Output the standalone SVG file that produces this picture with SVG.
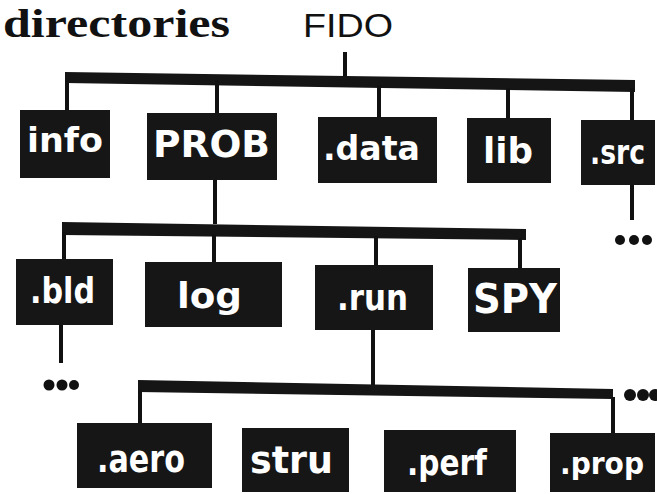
<svg xmlns="http://www.w3.org/2000/svg" width="657" height="494" viewBox="0 0 657 494">
<style>
.box{fill:#161616}
.lbl{fill:#fff;font-family:"DejaVu Sans",sans-serif;font-weight:bold}
.drop{stroke:#111;stroke-width:4;fill:none}
.bar{fill:#151515}
.dot{fill:#111}
</style>
<rect width="657" height="494" fill="#fff"/>
<text x="3" y="37" font-family="Liberation Serif,serif" font-size="40" font-weight="bold" textLength="227" lengthAdjust="spacingAndGlyphs" fill="#111">directories</text>
<text x="303" y="37" font-family="Liberation Sans,sans-serif" font-size="33" textLength="90" lengthAdjust="spacingAndGlyphs" fill="#111">FIDO</text>

<g id="connectors">
  <line class="drop" x1="345" y1="52" x2="345" y2="78"/>
  <polygon class="bar" points="65,72 635,80 635,92 65,83"/>
  <line class="drop" x1="67" y1="80" x2="67" y2="111"/>
  <line class="drop" x1="217" y1="80" x2="217" y2="114"/>
  <line class="drop" x1="379" y1="85" x2="379" y2="118"/>
  <line class="drop" x1="508" y1="88" x2="508" y2="119"/>
  <line class="drop" x1="632" y1="88" x2="632" y2="121"/>

  <line class="drop" x1="215" y1="178" x2="215" y2="224"/>
  <line class="drop" x1="632" y1="182" x2="632" y2="220"/>
  <circle class="dot" cx="620" cy="240" r="5"/>
  <circle class="dot" cx="634" cy="240" r="5"/>
  <circle class="dot" cx="647" cy="240" r="5"/>

  <polygon class="bar" points="62,222 526,229 526,240 62,235"/>
  <line class="drop" x1="64" y1="232" x2="64" y2="260"/>
  <line class="drop" x1="214" y1="234" x2="214" y2="263"/>
  <line class="drop" x1="376" y1="236" x2="376" y2="266"/>
  <line class="drop" x1="520" y1="238" x2="520" y2="269"/>

  <line class="drop" x1="61" y1="324" x2="61" y2="363"/>
  <circle class="dot" cx="49" cy="385" r="5.5"/>
  <circle class="dot" cx="62" cy="385" r="5.5"/>
  <circle class="dot" cx="74" cy="385" r="5"/>

  <line class="drop" x1="373" y1="329" x2="373" y2="387"/>
  <polygon class="bar" points="138,380 613,389 613,399 138,392"/>
  <circle class="dot" cx="630" cy="395" r="6"/>
  <circle class="dot" cx="643" cy="395" r="6"/>
  <circle class="dot" cx="655" cy="395" r="6"/>
  <line class="drop" x1="140" y1="390" x2="140" y2="424"/>
  <line class="drop" x1="613" y1="397" x2="613" y2="434"/>
</g>

<g id="info"><rect class="box" x="20" y="110" width="90" height="68"/><text class="lbl" x="27" y="152" font-size="34" textLength="76" lengthAdjust="spacingAndGlyphs">info</text></g>
<g id="PROB"><rect class="box" x="147" y="113" width="130" height="67"/><text class="lbl" x="153" y="157" font-size="38" textLength="117" lengthAdjust="spacingAndGlyphs">PROB</text></g>
<g id="data"><rect class="box" x="318" y="117" width="119" height="66"/><text class="lbl" x="323" y="160" font-size="34" textLength="97" lengthAdjust="spacingAndGlyphs">.data</text></g>
<g id="lib"><rect class="box" x="467" y="118" width="84" height="65"/><text class="lbl" x="483" y="163" font-size="35" textLength="50" lengthAdjust="spacingAndGlyphs">lib</text></g>
<g id="src"><rect class="box" x="581" y="120" width="74" height="65"/><text class="lbl" x="590" y="164" font-size="33" textLength="55" lengthAdjust="spacingAndGlyphs">.src</text></g>

<g id="bld"><rect class="box" x="16" y="259" width="97" height="66"/><text class="lbl" x="30" y="303" font-size="35" textLength="65" lengthAdjust="spacingAndGlyphs">.bld</text></g>
<g id="log"><rect class="box" x="145" y="262" width="137" height="65"/><text class="lbl" x="177" y="308" font-size="36" textLength="65" lengthAdjust="spacingAndGlyphs">log</text></g>
<g id="run"><rect class="box" x="315" y="265" width="118" height="65"/><text class="lbl" x="337" y="310" font-size="36" textLength="71" lengthAdjust="spacingAndGlyphs">.run</text></g>
<g id="SPY"><rect class="box" x="468" y="268" width="92" height="64"/><text class="lbl" x="473" y="313" font-size="40" textLength="84" lengthAdjust="spacingAndGlyphs">SPY</text></g>

<g id="aero"><rect class="box" x="77" y="423" width="135" height="65"/><text class="lbl" x="97" y="472" font-size="38" textLength="88" lengthAdjust="spacingAndGlyphs">.aero</text></g>
<g id="stru"><rect class="box" x="242" y="428" width="107" height="64"/><text class="lbl" x="250" y="473" font-size="38" textLength="83" lengthAdjust="spacingAndGlyphs">stru</text></g>
<g id="perf"><rect class="box" x="384" y="430" width="132" height="62"/><text class="lbl" x="407" y="475" font-size="36" textLength="80" lengthAdjust="spacingAndGlyphs">.perf</text></g>
<g id="prop"><rect class="box" x="550" y="433" width="105" height="59"/><text class="lbl" x="560" y="474" font-size="31" textLength="84" lengthAdjust="spacingAndGlyphs">.prop</text></g>
</svg>
